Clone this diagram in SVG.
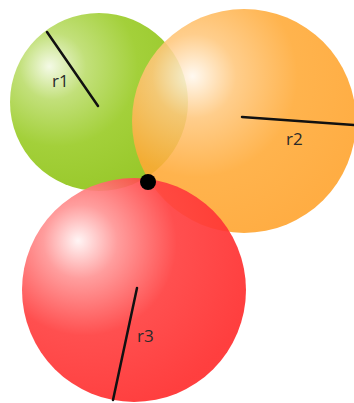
<svg xmlns="http://www.w3.org/2000/svg" width="354" height="403" viewBox="0 0 354 403">
<style>
.r{stroke:#111;stroke-width:2.5;stroke-linecap:round;fill:none}
.t{font-family:"Open Sans","Liberation Sans",sans-serif;font-size:17px;fill:#2a2a2a}
</style>
<defs>
<radialGradient id="gG" cx="0.3" cy="0.3" r="0.75" fx="0.22" fy="0.3">
<stop offset="0" stop-color="#f4fae6"/>
<stop offset="0.25" stop-color="#c2e07a"/>
<stop offset="0.6" stop-color="#a3d03a"/>
<stop offset="1" stop-color="#98c82a"/>
</radialGradient>
<radialGradient id="gO" cx="0.3" cy="0.3" r="0.75" fx="0.27" fy="0.3">
<stop offset="0" stop-color="#fff8ee"/>
<stop offset="0.25" stop-color="#ffc77c"/>
<stop offset="0.6" stop-color="#ffa935"/>
<stop offset="1" stop-color="#ffa22a"/>
</radialGradient>
<radialGradient id="gR" cx="0.3" cy="0.3" r="0.75" fx="0.25" fy="0.28">
<stop offset="0" stop-color="#fff4f4"/>
<stop offset="0.22" stop-color="#ff9595"/>
<stop offset="0.55" stop-color="#ff4040"/>
<stop offset="1" stop-color="#ff2e2e"/>
</radialGradient>
</defs>
<g id="circle1"><circle cx="99" cy="102" r="89" fill="url(#gG)"/></g>
<g id="circle2"><circle cx="244" cy="121" r="112" fill="url(#gO)" opacity="0.88"/></g>
<g id="circle3"><circle cx="134" cy="290" r="112" fill="url(#gR)" opacity="0.92"/></g>
<g id="radii">
<path class="r" d="M47 32 L98 106"/>
<path class="r" d="M242 117 L354 125"/>
<path class="r" d="M137 288 L113 400"/>
</g>
<g id="point"><circle cx="148" cy="182" r="8" fill="#000"/></g>
<g id="labels">
<text class="t" x="52" y="87">r1</text>
<text class="t" x="286" y="145">r2</text>
<text class="t" x="137" y="342">r3</text>
</g>
</svg>
